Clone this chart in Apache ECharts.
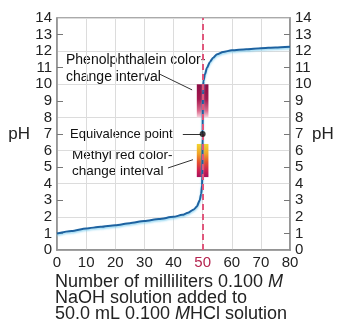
<!DOCTYPE html>
<html><head><meta charset="utf-8">
<script src="https://cdn.jsdelivr.net/npm/echarts@6/dist/echarts.min.js"></script>
<style>html,body{margin:0;padding:0;background:#fff}#c{width:337px;height:324px}</style>
</head><body><div id="c"></div>
<script>
// ---- data ----
const volumeML = [0, 5, 10, 15, 20, 25, 30, 35, 40, 43, 45, 47, 48, 49, 49.5, 49.8, 49.9, 50, 50.1, 50.3, 50.8, 51.5, 52.5, 53.6, 55, 57, 60, 65, 70, 75, 80];
const pHValues = [1.0, 1.15, 1.3, 1.4, 1.5, 1.62, 1.75, 1.87, 2.0, 2.12, 2.25, 2.45, 2.62, 3.0, 3.4, 3.9, 4.5, 7.0, 9.6, 10.2, 10.6, 11.0, 11.35, 11.6, 11.82, 11.95, 12.05, 12.12, 12.18, 12.22, 12.27];
const xTickValues = [0, 10, 20, 30, 40, 50, 60, 70, 80];
const yLabelValues = [0, 1, 2, 3, 4, 5, 6, 7, 8, 9, 10, 11, 12, 13, 14];
const yTickMarks = [1, 3, 5, 7, 9, 11, 13];
const indicatorNames = ['Phenolphthalein', 'Methyl red'];
const indicatorVolume = [[48, 52], [48, 52]];
const indicatorPH = [[8, 10], [4.4, 6.4]];
const equivalencePoint = [50, 7];
const equivalenceVolume = 50;

const FONT = '"Liberation Sans", Arial, Helvetica, sans-serif';
const chart = echarts.init(document.getElementById('c'), null, {renderer: 'canvas'});

const gradients = [
  {type: 'linear', x: 0, y: 0, x2: 0, y2: 1, colorStops: [
    {offset: 0, color: '#8c0c45'}, {offset: 0.45, color: '#a5184f'},
    {offset: 0.8, color: '#dc6a8c'}, {offset: 1, color: '#f8d6e0'}]},
  {type: 'linear', x: 0, y: 0, x2: 0, y2: 1, colorStops: [
    {offset: 0, color: '#f3d52e'}, {offset: 0.3, color: '#f0a126'},
    {offset: 0.55, color: '#e6512e'}, {offset: 0.8, color: '#cf2150'}, {offset: 1, color: '#a80f5c'}]}
];

const curveData = volumeML.map((v, i) => [v, pHValues[i]]);
const barData = indicatorNames.map((n, i) => [indicatorVolume[i][0], indicatorVolume[i][1], indicatorPH[i][0], indicatorPH[i][1]]);

const yAxisBase = {
  type: 'value', min: 0, max: 14, interval: 1,
  axisLine: {show: true, lineStyle: {color: '#8f8f8f', width: 1.5}},
  axisTick: {show: true, inside: true, length: 6, customValues: yTickMarks, lineStyle: {color: '#777'}},
  axisLabel: {color: '#222', fontSize: 15, fontFamily: FONT, margin: 5},
  splitLine: {show: false},
  name: 'pH', nameLocation: 'middle', nameRotate: 0, nameMoveOverlap: false,
  nameTextStyle: {fontSize: 17, fontFamily: FONT, color: '#222'}
};

chart.setOption({
  animation: false,
  grid: {left: 57, right: 47, top: 18, bottom: 74, show: true, borderColor: '#8f8f8f', borderWidth: 1.5,
    containLabel: false, outerBoundsMode: 'none'},
  xAxis: {
    type: 'value', min: 0, max: 80, interval: 10,
    axisLine: {show: true, lineStyle: {color: '#8f8f8f', width: 1.5}},
    axisTick: {show: false},
    splitLine: {show: true, lineStyle: {color: '#dcdcdc', width: 1}},
    axisLabel: {
      color: '#222', fontSize: 15, fontFamily: FONT, margin: 5,
      formatter: v => v === equivalenceVolume ? '{r|' + v + '}' : String(v),
      rich: {r: {color: '#b5244f', fontSize: 15, fontFamily: FONT}}
    }
  },
  yAxis: [
    Object.assign({}, yAxisBase, {position: 'left', nameGap: 27}),
    Object.assign({}, yAxisBase, {position: 'right', nameGap: 22}),
    {type: 'value', min: 0, max: 14, interval: 2, position: 'left',
      axisLine: {show: false}, axisTick: {show: false}, axisLabel: {show: false},
      splitLine: {show: true, lineStyle: {color: '#dcdcdc', width: 1}}}
  ],
  series: [
    {
      type: 'line', data: [], z: 1, silent: true,
      markLine: {
        silent: true, symbol: 'none', label: {show: false},
        lineStyle: {color: '#e0577c', type: [6, 4], width: 2},
        data: [[{coord: [equivalenceVolume, 0]}, {coord: [equivalenceVolume, 14]}]]
      }
    },
    {
      type: 'custom', z: 2, silent: true, data: barData,
      renderItem: (params, api) => {
        const p0 = api.coord([api.value(0), api.value(3)]);
        const p1 = api.coord([api.value(1), api.value(2)]);
        return {type: 'rect', shape: {x: p0[0], y: p0[1], width: p1[0] - p0[0], height: p1[1] - p0[1]},
          style: {fill: gradients[params.dataIndex]}};
      }
    },
    {
      type: 'line', data: [], z: 3, silent: true,
      markLine: {
        silent: true, symbol: 'none', label: {show: false},
        lineStyle: {color: '#333', type: 'solid', width: 1},
        data: [
          [{coord: [35.4, 10.6]}, {coord: [46.4, 9.66]}],
          [{coord: [43.2, 7]}, {coord: [49.5, 7]}],
          [{coord: [38.1, 4.95]}, {coord: [46.7, 5.45]}]
        ]
      }
    },
    {
      type: 'line', data: curveData, z: 4, showSymbol: false, silent: true,
      smooth: 0.25, smoothMonotone: 'x',
      lineStyle: {color: '#1d62a0', width: 2, shadowColor: 'rgba(120,205,240,0.8)', shadowBlur: 2, shadowOffsetY: 1.5}
    },
    {
      type: 'scatter', data: [equivalencePoint], z: 5, symbolSize: 6, silent: true,
      itemStyle: {color: '#111'}
    }
  ],
  graphic: [
    {type: 'text', x: 66, y: 60, style: {text: 'Phenolphthalein color-', font: '14px ' + FONT, fill: '#111', verticalAlign: 'middle'}},
    {type: 'text', x: 66, y: 77, style: {text: 'change interval', font: '14px ' + FONT, fill: '#111', verticalAlign: 'middle'}},
    {type: 'text', x: 70, y: 134, style: {text: 'Equivalence point', font: '13px ' + FONT, fill: '#111', verticalAlign: 'middle'}},
    {type: 'text', x: 72, y: 155, style: {text: 'Methyl red color-', font: '13.5px ' + FONT, fill: '#111', verticalAlign: 'middle'}},
    {type: 'text', x: 72, y: 171, style: {text: 'change interval', font: '13.5px ' + FONT, fill: '#111', verticalAlign: 'middle'}},
    {type: 'text', x: 55, y: 282, style: {text: 'Number of milliliters 0.100 {i|M}', font: '18px ' + FONT, fill: '#222', verticalAlign: 'middle',
      rich: {i: {fontStyle: 'italic', fontSize: 18, fontFamily: FONT}}}},
    {type: 'text', x: 55, y: 298, style: {text: 'NaOH solution added to', font: '18px ' + FONT, fill: '#222', verticalAlign: 'middle'}},
    {type: 'text', x: 55, y: 314, style: {text: '50.0 mL 0.100 {i|M}HCl solution', font: '18px ' + FONT, fill: '#222', verticalAlign: 'middle',
      rich: {i: {fontStyle: 'italic', fontSize: 18, fontFamily: FONT}}}}
  ]
});
</script>
</body></html>
